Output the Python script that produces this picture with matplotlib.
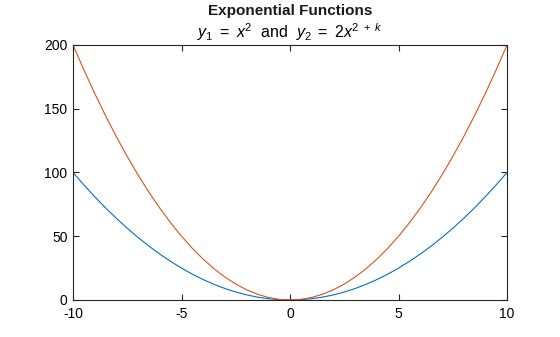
import matplotlib
matplotlib.use("Agg")
import matplotlib.pyplot as plt

plt.rcParams['font.family'] = ['Liberation Sans', 'DejaVu Sans']
plt.rcParams['mathtext.fontset'] = 'custom'
plt.rcParams['mathtext.rm'] = 'Liberation Sans'
plt.rcParams['mathtext.it'] = 'Liberation Sans:italic'
plt.rcParams['mathtext.bf'] = 'Liberation Sans:bold'
plt.rcParams['axes.unicode_minus'] = False

# sample points
x = [-10, -9.5, -9, -8.5, -8, -7.5, -7, -6.5, -6, -5.5, -5, -4.5, -4, -3.5, -3,
     -2.5, -2, -1.5, -1, -0.5, 0, 0.5, 1, 1.5, 2, 2.5, 3, 3.5, 4, 4.5, 5, 5.5,
     6, 6.5, 7, 7.5, 8, 8.5, 9, 9.5, 10]
y1 = [100, 90.25, 81, 72.25, 64, 56.25, 49, 42.25, 36, 30.25, 25, 20.25, 16,
      12.25, 9, 6.25, 4, 2.25, 1, 0.25, 0, 0.25, 1, 2.25, 4, 6.25, 9, 12.25, 16,
      20.25, 25, 30.25, 36, 42.25, 49, 56.25, 64, 72.25, 81, 90.25, 100]
y2 = [200, 180.5, 162, 144.5, 128, 112.5, 98, 84.5, 72, 60.5, 50, 40.5, 32,
      24.5, 18, 12.5, 8, 4.5, 2, 0.5, 0, 0.5, 2, 4.5, 8, 12.5, 18, 24.5, 32,
      40.5, 50, 60.5, 72, 84.5, 98, 112.5, 128, 144.5, 162, 180.5, 200]

xticks = [-10, -5, 0, 5, 10]
yticks = [0, 50, 100, 150, 200]

fig = plt.figure(figsize=(5.6, 3.37), dpi=100)
ax = fig.add_axes([0.1304, 0.1098, 0.7750, 0.7567])

ax.plot(x, y1, color='#0072BD', lw=0.8)
ax.plot(x, y2, color='#D95319', lw=0.8)

ax.set_xlim(-10, 10)
ax.set_ylim(0, 200)
ax.set_xticks(xticks)
ax.set_yticks(yticks)
ax.tick_params(direction='in', top=True, right=True, length=4, width=0.8,
               labelsize=10, colors='#262626', labelcolor='black', pad=3)
ax.tick_params(axis='x', pad=5)
ax.tick_params(axis='y', pad=4)
for s in ax.spines.values():
    s.set_linewidth(0.8)
    s.set_color('#262626')

fig.text(0.5175, 0.987, 'Exponential Functions', ha='center', va='top',
         fontsize=11, fontweight='bold', color='#1a1a1a')
fig.text(0.5175, 0.937, r'$y_1\ =\ x^2$  and  $y_2\ =\ 2x^{2\ +\ k}$',
         ha='center', va='top', fontsize=11.5, color='black')

fig.savefig('out.png', dpi=100)
